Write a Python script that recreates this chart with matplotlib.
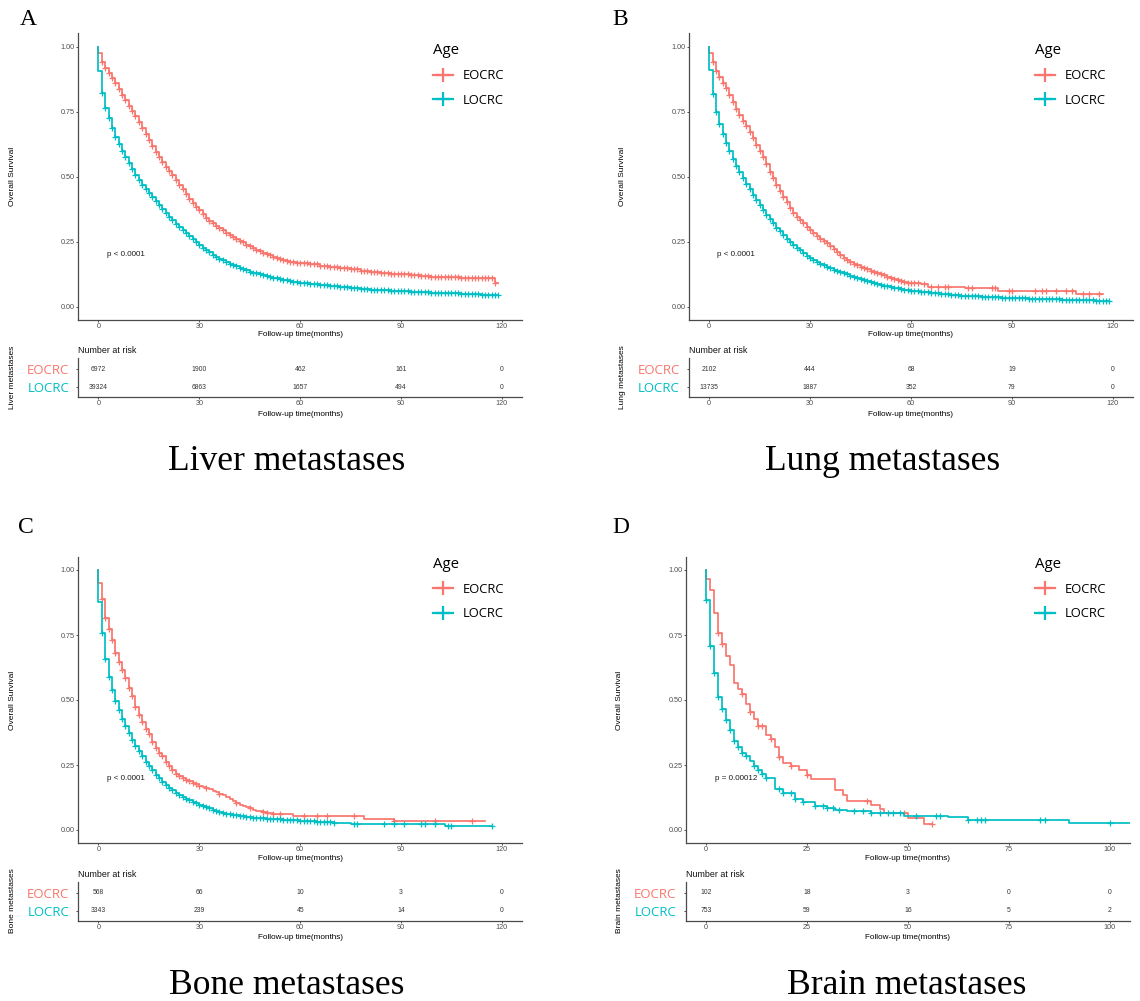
import numpy as np
import matplotlib
matplotlib.use("Agg")
import matplotlib.pyplot as plt
from matplotlib.lines import Line2D

W, H = 1140, 1001
RED = "#F8766D"
TEAL = "#00BFC4"
groups = ["EOCRC", "LOCRC"]

# ---- Liver metastases (KM steps: months, survival) ----
liver_eo_t = list(range(0, 61)) + list(range(63, 118, 3)) + [118]
liver_eo_s = [.974, .942, .917, .897, .878, .859, .836, .814, .793, .773,
              .752, .731, .708, .686, .663, .640, .618, .596, .576, .556,
              .538, .521, .506, .487, .468, .451, .433, .415, .399, .384,
              .370, .355, .342, .331, .320, .310, .301, .293, .285, .277,
              .269, .261, .254, .247, .239, .232, .226, .219, .213, .207,
              .201, .197, .192, .187, .183, .179, .176, .173, .170, .169,
              .167, .163, .158, .152, .147, .143, .138, .134, .131, .127,
              .124, .121, .119, .116, .114, .113, .112, .111, .110, .109,
              .092]
liver_eo_end = 119
liver_eo_cens = list(range(1, 119))

liver_lo_t = list(range(0, 61)) + list(range(63, 118, 3))
liver_lo_s = [.905, .823, .765, .724, .686, .654, .626, .600, .574, .551,
              .529, .506, .487, .468, .452, .437, .423, .406, .390, .374,
              .359, .345, .332, .319, .307, .295, .283, .271, .259, .248,
              .237, .227, .218, .209, .200, .192, .185, .178, .172, .166,
              .160, .155, .150, .145, .140, .135, .131, .128, .124, .121,
              .118, .115, .112, .109, .106, .103, .101, .098, .096, .094,
              .092, .087, .083, .078, .075, .072, .069, .066, .064, .062,
              .060, .058, .056, .054, .053, .051, .049, .048, .046, .045]
liver_lo_end = 119
liver_lo_cens = list(range(1, 120))

liver_risk_eo = [6972, 1900, 462, 161, 0]
liver_risk_lo = [39324, 6863, 1657, 494, 0]

# ---- Lung metastases ----
lung_eo_t = list(range(0, 61)) + [63, 65, 76, 86, 109]
lung_eo_s = [.974, .940, .904, .882, .859, .840, .812, .786, .760, .737,
             .715, .695, .671, .647, .622, .599, .577, .549, .519, .494,
             .468, .445, .423, .401, .378, .359, .346, .333, .321, .308,
             .295, .283, .272, .262, .253, .245, .234, .222, .211, .197,
             .186, .178, .172, .166, .160, .154, .149, .144, .139, .135,
             .130, .125, .120, .115, .110, .106, .102, .098, .094, .091,
             .090, .087, .077, .070, .061, .049]
lung_eo_end = 117
lung_eo_cens = list(range(1, 63)) + [64, 66, 68, 70, 71, 77, 78, 84, 85, 89, 90,
                                     97, 99, 100, 103, 106, 108, 111, 113, 116]

lung_lo_t = list(range(0, 61)) + [63, 66, 69, 72, 75, 78, 81, 84, 87, 90, 95, 100, 105, 110, 115]
lung_lo_s = [.910, .817, .750, .703, .664, .631, .599, .568, .542, .517,
             .494, .471, .451, .429, .410, .391, .372, .353, .336, .321,
             .304, .290, .276, .262, .250, .238, .227, .216, .205, .195,
             .186, .179, .172, .165, .159, .153, .147, .142, .137, .133,
             .129, .124, .119, .115, .111, .107, .103, .099, .095, .091,
             .087, .084, .081, .078, .075, .073, .070, .068, .065, .063,
             .061, .056, .052, .049, .046, .043, .041, .038, .036, .034,
             .032, .030, .028, .027, .025, .023]
lung_lo_end = 119
lung_lo_cens = list(range(1, 120))

lung_risk_eo = [2102, 444, 68, 19, 0]
lung_risk_lo = [13735, 1887, 352, 79, 0]

# ---- Bone metastases ----
bone_eo_t = list(range(0, 51)) + [52, 56, 58, 79, 88]
bone_eo_s = [.949, .887, .817, .772, .730, .681, .647, .617, .585, .548,
             .514, .473, .441, .415, .389, .370, .338, .316, .296, .283,
             .262, .245, .229, .215, .208, .200, .193, .187, .182, .176,
             .171, .166, .161, .156, .150, .146, .140, .134, .126, .118,
             .110, .104, .098, .092, .088, .083, .078, .075, .072, .069,
             .066, .063, .062, .055, .042, .036]
bone_eo_end = 115
bone_eo_cens = list(range(1, 31)) + [32, 36, 41, 45, 49, 50, 52, 54, 61, 65, 68, 76, 88, 100, 111]

bone_lo_t = list(range(0, 41)) + [42, 44, 46, 48, 50, 55, 60, 65, 70, 75, 80, 90, 103]
bone_lo_s = [.878, .756, .656, .589, .540, .495, .460, .428, .400, .373,
             .347, .323, .303, .283, .263, .245, .229, .213, .199, .186,
             .174, .162, .152, .143, .134, .127, .121, .115, .109, .103,
             .098, .093, .088, .083, .078, .073, .069, .066, .063, .060,
             .058, .055, .051, .048, .045, .042, .039, .036, .032, .027,
             .025, .023, .022, .014]
bone_lo_end = 117
bone_lo_cens = list(range(1, 71)) + [76, 77, 85, 88, 91, 96, 97, 100, 104, 105, 117]

bone_risk_eo = [568, 66, 10, 3, 0]
bone_risk_lo = [3343, 239, 45, 14, 0]

# ---- Brain metastases ----
brain_eo_t = [0, 1, 2, 3, 4, 5, 6, 7, 8, 9, 10, 11, 12, 13, 15, 16, 17, 18, 19,
              21, 23, 25, 26, 32, 34, 35, 41, 43, 44, 50, 54]
brain_eo_s = [.964, .925, .835, .756, .717, .668, .636, .566, .544, .524,
              .483, .454, .428, .400, .366, .351, .319, .280, .257,
              .245, .229, .213, .197, .154, .136, .113, .096, .081, .066, .045, .023]
brain_eo_end = 56
brain_eo_cens = [3, 4, 9, 11, 13, 14, 16, 18, 21, 25, 40, 49, 56]

brain_lo_t = [0, 1, 2, 3, 4, 5, 6, 7, 8, 9, 10, 11, 12, 13, 14, 15, 17, 19, 22,
              24, 27, 30, 32, 35, 41, 49, 60, 65, 90]
brain_lo_s = [.884, .708, .605, .512, .464, .425, .386, .342, .319, .297,
              .283, .267, .248, .231, .216, .200, .158, .141, .119,
              .107, .094, .085, .078, .072, .064, .055, .051, .039, .027]
brain_lo_end = 110
brain_lo_cens = [0, 1, 2, 3, 4, 5, 6, 7, 8, 9, 10, 12, 13, 14, 15, 18, 19, 21, 22, 24,
                 27, 29, 30, 31.5, 33, 36.7, 39, 41, 43, 45, 46.4, 48, 52, 57, 58,
                 65, 67, 68, 69, 82.7, 84, 100]

brain_risk_eo = [102, 18, 3, 0, 0]
brain_risk_lo = [753, 59, 16, 5, 2]

ticks_120 = [0, 30, 60, 90, 120]
ticks_100 = [0, 25, 50, 75, 100]

SANS = "Liberation Sans"
SERIF = "Liberation Serif"
LEG = "Open Sans"


def px_rect(l, t, r, b):
    return [l / W, 1 - b / H, (r - l) / W, (b - t) / H]


panels = [
    dict(letter="A", title="Liver metastases", pval="p < 0.0001", px=2.4,
         curves=[(liver_eo_t, liver_eo_s, liver_eo_end, liver_eo_cens),
                 (liver_lo_t, liver_lo_s, liver_lo_end, liver_lo_cens)],
         risk=[liver_risk_eo, liver_risk_lo], ticks=ticks_120, xlim=(-6, 126),
         main=(78.3, 33.5, 522, 319.7), table=(78.3, 358, 522, 397),
         letter_pos=(20, 25), title_pos=(287, 470), leg_pos=(433, 43)),
    dict(letter="B", title="Lung metastases", pval="p < 0.0001", px=2.4,
         curves=[(lung_eo_t, lung_eo_s, lung_eo_end, lung_eo_cens),
                 (lung_lo_t, lung_lo_s, lung_lo_end, lung_lo_cens)],
         risk=[lung_risk_eo, lung_risk_lo], ticks=ticks_120, xlim=(-6, 126),
         main=(689, 33.5, 1133, 319.7), table=(689, 358, 1133, 397),
         letter_pos=(612, 25), title_pos=(883, 470), leg_pos=(1035, 43)),
    dict(letter="C", title="Bone metastases", pval="p < 0.0001", px=2.4,
         curves=[(bone_eo_t, bone_eo_s, bone_eo_end, bone_eo_cens),
                 (bone_lo_t, bone_lo_s, bone_lo_end, bone_lo_cens)],
         risk=[bone_risk_eo, bone_risk_lo], ticks=ticks_120, xlim=(-6, 126),
         main=(78.3, 557, 522, 843), table=(78.3, 881.5, 522, 920.5),
         letter_pos=(18, 533), title_pos=(287, 993.5), leg_pos=(433, 556.5)),
    dict(letter="D", title="Brain metastases", pval="p = 0.00012", px=2.2,
         curves=[(brain_eo_t, brain_eo_s, brain_eo_end, brain_eo_cens),
                 (brain_lo_t, brain_lo_s, brain_lo_end, brain_lo_cens)],
         risk=[brain_risk_eo, brain_risk_lo], ticks=ticks_100, xlim=(-5, 105),
         main=(685.7, 557, 1130, 843), table=(685.7, 881.5, 1130, 920.5),
         letter_pos=(612, 533), title_pos=(907, 993.5), leg_pos=(1035, 556.5)),
]


def style_axis(ax):
    for side in ("top", "right"):
        ax.spines[side].set_visible(False)
    for side in ("left", "bottom"):
        ax.spines[side].set_color("#4a4a4a")
        ax.spines[side].set_linewidth(0.9)
    ax.tick_params(length=1.6, width=0.6, color="#333333", pad=0.8,
                   labelsize=5.2, labelcolor="#4D4D4D")
    for lab in ax.get_xticklabels() + ax.get_yticklabels():
        lab.set_family(SANS)


def draw_panel(fig, p):
    colors = [RED, TEAL]
    ax = fig.add_axes(px_rect(*p["main"]))
    for color, (t, s, end, cens) in zip(colors, p["curves"]):
        xs = [0] + t + [end]
        ys = [1.0] + s + [s[-1]]
        ax.step(xs, ys, where="post", color=color, lw=1.25)
        # censoring ticks sit on the step curve
        ct = np.array(cens, dtype=float)
        idx = np.searchsorted(np.array(t), ct, side="right") - 1
        ax.plot(ct, np.array(s)[idx], ls="none", marker="+", ms=5, mew=0.9,
                color=color)
    ax.set_xlim(*p["xlim"])
    ax.set_ylim(-0.05, 1.05)
    ax.set_xticks(p["ticks"])
    ax.set_yticks([0, 0.25, 0.5, 0.75, 1.0])
    ax.set_yticklabels(["0.00", "0.25", "0.50", "0.75", "1.00"])
    style_axis(ax)
    l, t0, r, b = p["main"]
    hgt = b - t0
    ax.set_xlabel("Follow-up time(months)", fontsize=5.9, family=SANS, va="center")
    ax.xaxis.set_label_coords(0.5, -(335 - 319.7) / hgt)
    ax.set_ylabel("Overall Survival", fontsize=6, family=SANS, va="center")
    ax.yaxis.set_label_coords(-66 / (r - l), 0.5)
    ax.text(p["px"], 0.2, p["pval"], ha="left", va="center", fontsize=5.8,
            family=SANS, color="#1a1a1a")

    handles = [Line2D([], [], color=c, lw=1.6, marker="+", ms=10, mew=1.6)
               for c in colors]
    lx, ly = p["leg_pos"]
    ax.legend(handles, groups, title="Age", loc="upper left",
              bbox_to_anchor=(lx / W, 1 - ly / H), bbox_transform=fig.transFigure,
              frameon=False, prop={"family": LEG, "size": 9.4},
              title_fontproperties={"family": LEG, "size": 10.8},
              alignment="left", handlelength=1.55, handletextpad=0.75,
              labelspacing=0.88, borderpad=0, borderaxespad=0)

    # risk table
    tab = fig.add_axes(px_rect(*p["table"]))
    tab.set_xlim(*p["xlim"])
    tab.set_ylim(0.46, 2.63)
    tab.set_xticks(p["ticks"])
    for row, counts in zip([2, 1], p["risk"]):
        for x, n in zip(p["ticks"], counts):
            tab.text(x, row, str(n), ha="center", va="center", fontsize=4.9,
                     family=SANS, color="#333333")
    style_axis(tab)
    tab.set_yticks([2, 1])
    tab.set_yticklabels(groups)
    tab.tick_params(axis="y", pad=5)
    for lab, c in zip(tab.get_yticklabels(), colors):
        lab.set_color(c)
        lab.set_family(LEG)
        lab.set_fontsize(9.5)
    tl, tt, tr, tb = p["table"]
    th = tb - tt
    tab.set_xlabel("Follow-up time(months)", fontsize=5.9, family=SANS, va="center")
    tab.xaxis.set_label_coords(0.5, -(414 - 397) / th)
    tab.set_ylabel(p["title"], fontsize=6, family=SANS, va="center")
    tab.yaxis.set_label_coords(-66 / (tr - tl), 0.5)
    tab.text(0, 1 + 7.3 / th, "Number at risk", transform=tab.transAxes,
             ha="left", va="center", fontsize=6.4, family=SANS, color="#111111")

    x, y = p["letter_pos"]
    fig.text(x / W, 1 - y / H, p["letter"], family=SERIF, fontsize=17,
             va="baseline", ha="left")
    x, y = p["title_pos"]
    fig.text(x / W, 1 - y / H, p["title"], family=SERIF, fontsize=25.6,
             va="baseline", ha="center")


fig = plt.figure(figsize=(W / 100, H / 100), dpi=100)
fig.patch.set_facecolor("white")
for p in panels:
    draw_panel(fig, p)

fig.savefig("out.png", dpi=100, facecolor="white")
